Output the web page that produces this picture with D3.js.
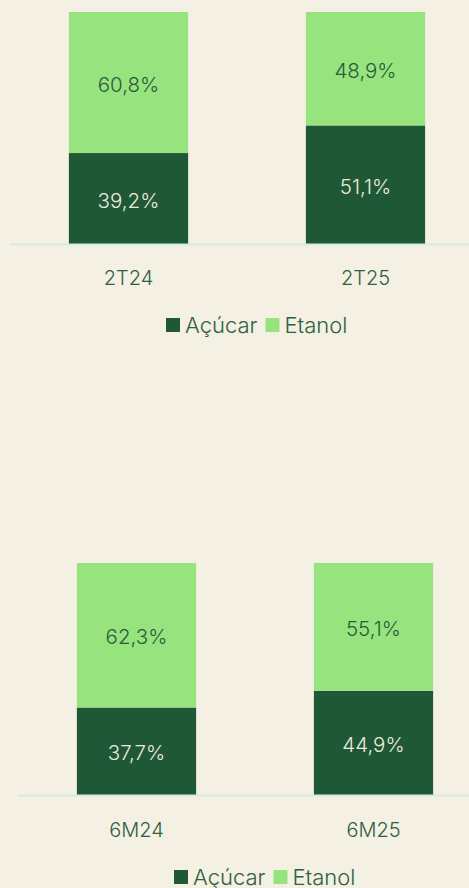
<!DOCTYPE html>
<html>
<head>
<meta charset="utf-8">
<script src="https://cdn.jsdelivr.net/npm/d3@7"></script>
<style>
  html, body { margin: 0; padding: 0; background: #f4f0e3; }
  svg { display: block; font-family: Inter, "Noto Sans", sans-serif; font-weight: 300; }
</style>
</head>
<body>
<div id="chart"></div>
<script>
// data
var series = ["Açúcar", "Etanol"];
var quarterCats = ["2T24", "2T25"];
var quarterAcucar = [39.2, 51.1];
var quarterEtanol = [60.8, 48.9];
var semesterCats = ["6M24", "6M25"];
var semesterAcucar = [37.7, 44.9];
var semesterEtanol = [62.3, 55.1];

var width = 469, height = 888;
var colors = {"Açúcar": "#1f5837", "Etanol": "#97e37e"};
var labelColors = {"Açúcar": "#eeeadb", "Etanol": "#2b5a3b"};

var svg = d3.select("#chart").append("svg")
  .attr("width", width)
  .attr("height", height);

svg.append("rect").attr("width", width).attr("height", height).attr("fill", "#f4f0e3");

function fmt(v) { return v.toFixed(1).replace(".", ",") + "%"; }

function drawChart(cats, acucar, etanol, opt) {
  var g = svg.append("g").attr("transform", "translate(" + opt.left + "," + opt.top + ")");
  var plotH = opt.baseline - opt.top;

  var x = d3.scaleBand().domain(cats).range([0, opt.plotW]).paddingInner(0.497).paddingOuter(0.2485);
  var y = d3.scaleLinear().domain([0, 100]).range([plotH, 0]);

  var rows = cats.map(function(c, i) { return {cat: c, "Açúcar": acucar[i], "Etanol": etanol[i]}; });
  var stacked = d3.stack().keys(series)(rows);

  var layer = g.selectAll(".layer").data(stacked).enter().append("g")
    .attr("class", "layer")
    .attr("fill", function(d) { return colors[d.key]; });

  layer.selectAll("rect").data(function(d) { return d; }).enter().append("rect")
    .attr("x", function(d) { return x(d.data.cat); })
    .attr("width", x.bandwidth())
    .attr("y", function(d) { return y(d[1]); })
    .attr("height", function(d) { return y(d[0]) - y(d[1]); });

  stacked.forEach(function(s) {
    g.selectAll(null).data(s).enter().append("text")
      .attr("x", function(d) { return x(d.data.cat) + x.bandwidth() / 2; })
      .attr("y", function(d) { return (y(d[0]) + y(d[1])) / 2 + 1.5; })
      .attr("text-anchor", "middle")
      .attr("dominant-baseline", "central")
      .attr("fill", labelColors[s.key])
      .style("font-size", "20.5px")
      .text(function(d) { return fmt(d[1] - d[0]); });
  });

  // baseline
  g.append("line")
    .attr("x1", 0).attr("x2", opt.plotW)
    .attr("y1", plotH + 0.5).attr("y2", plotH + 0.5)
    .attr("stroke", "#d3eedb").attr("stroke-width", 2);

  // category labels
  g.selectAll(".cat").data(cats).enter().append("text")
    .attr("class", "cat")
    .attr("x", function(d) { return x(d) + x.bandwidth() / 2; })
    .attr("y", opt.labelY - opt.top)
    .attr("text-anchor", "middle")
    .attr("dominant-baseline", "central")
    .attr("fill", "#2d6141")
    .style("font-size", "20px")
    .text(function(d) { return d; });

  // legend
  var lg = svg.append("g").attr("transform", "translate(" + opt.legendX + "," + opt.legendY + ")");
  var lx = 0;
  series.forEach(function(s) {
    lg.append("rect").attr("x", lx).attr("y", -7).attr("width", 14).attr("height", 14).attr("fill", colors[s]);
    var t = lg.append("text").attr("x", lx + 19).attr("y", 0)
      .attr("dominant-baseline", "central")
      .attr("fill", "#2d6141")
      .style("font-size", "22px")
      .text(s);
    lx += 19 + t.node().getComputedTextLength() + 8;
  });
}

drawChart(quarterCats, quarterAcucar, quarterEtanol,
  {left: 10, top: 12, baseline: 244, plotW: 474, labelY: 278, legendX: 166, legendY: 325});
drawChart(semesterCats, semesterAcucar, semesterEtanol,
  {left: 18, top: 563, baseline: 795, plotW: 474, labelY: 830, legendX: 174, legendY: 877});
</script>
</body>
</html>
